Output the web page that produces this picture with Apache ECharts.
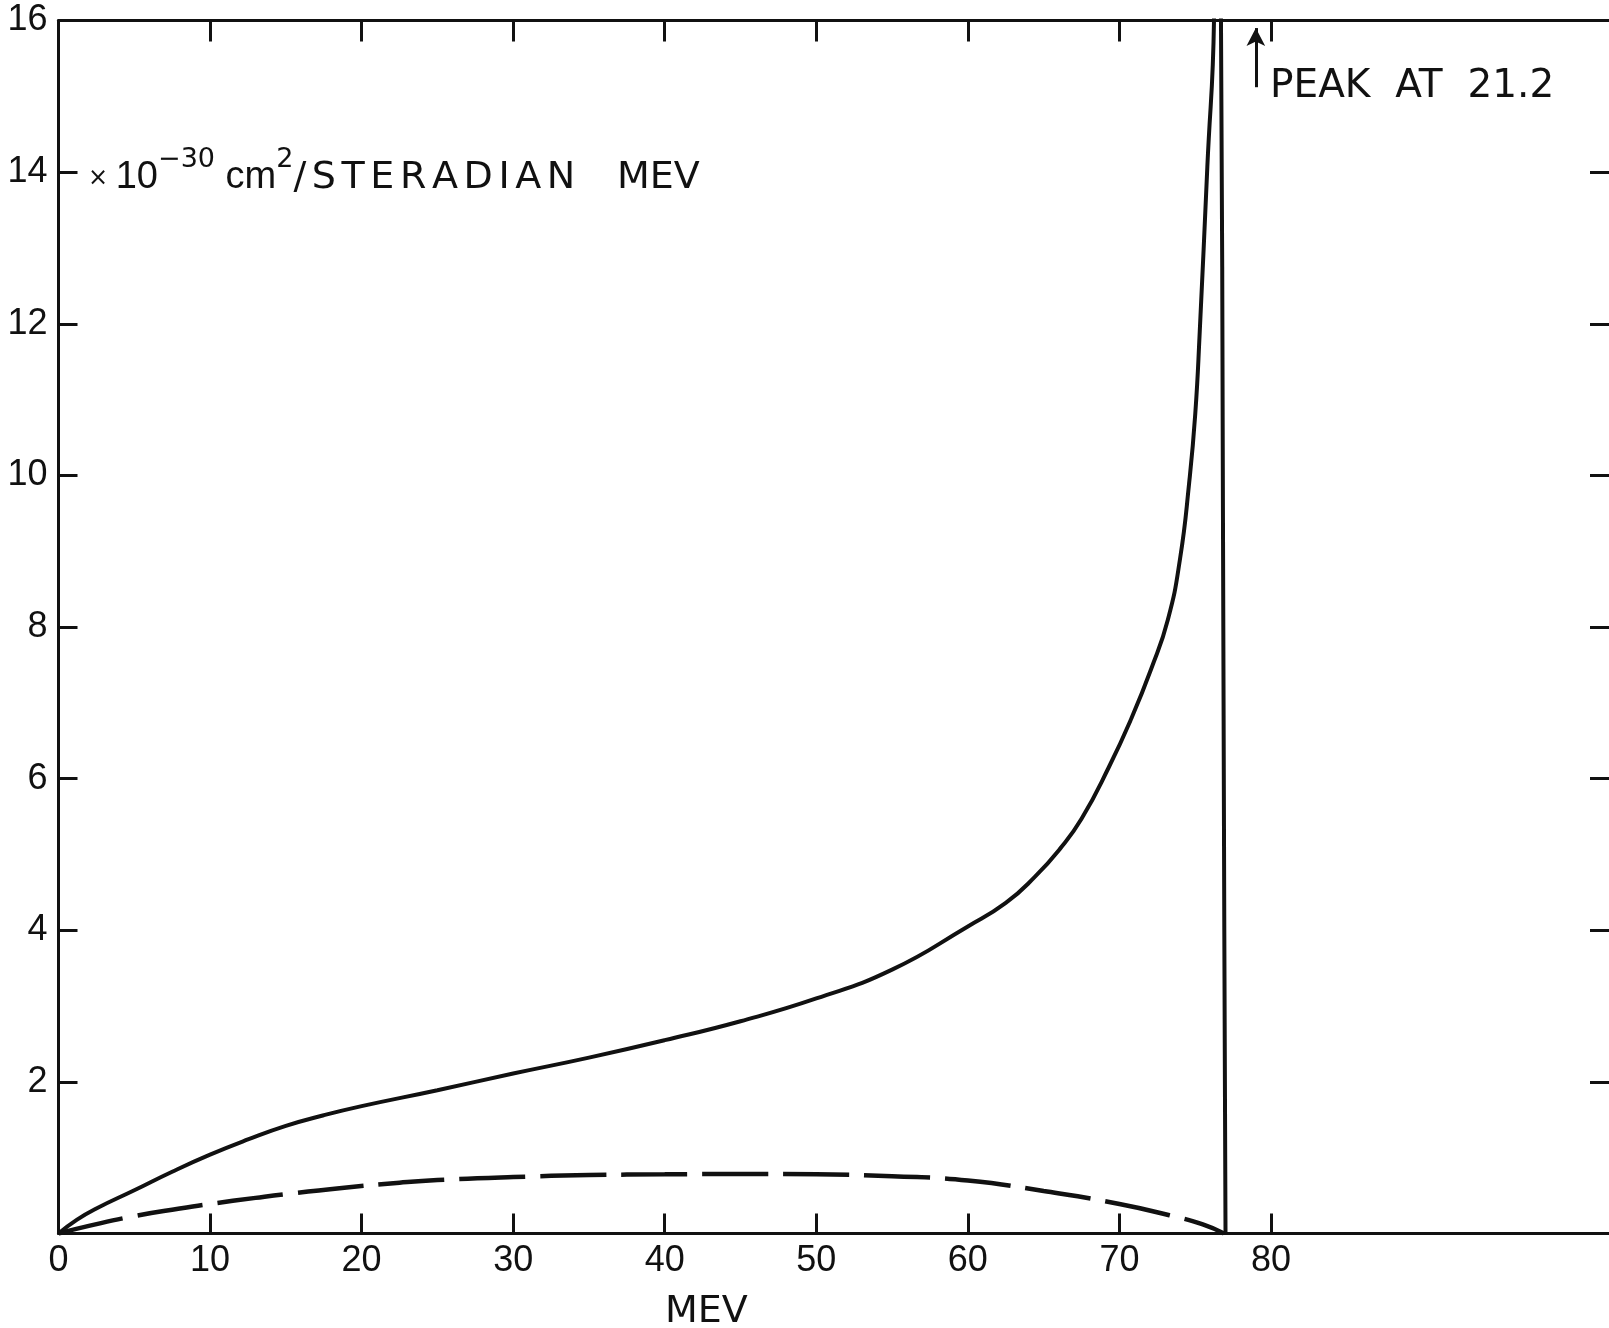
<!DOCTYPE html>
<html>
<head>
<meta charset="utf-8">
<script src="https://cdn.jsdelivr.net/npm/echarts@6/dist/echarts.min.js"></script>
<style>
html,body{margin:0;padding:0;background:#fff;}
#chart{width:1609px;height:1328px;}
</style>
</head>
<body>
<div id="chart"></div>
<script>
// Solid curve (energy in MeV, value in 1e-30 cm^2/sr MeV)
const solidEnergy = [0, 1.2, 2.5, 5, 7.5, 10, 12.5, 15, 17.5, 20, 25, 30, 35, 40, 45, 50, 55, 60, 62.5, 64.4, 66.1, 67.5, 69.3, 70.8, 72.1, 73.2, 74.0, 74.6, 75.0, 75.3, 75.8, 76.24, 76.45, 76.7, 76.83, 76.92, 77.0];
const solidValues = [0, 0.18, 0.33, 0.57, 0.815, 1.04, 1.24, 1.42, 1.56, 1.68, 1.89, 2.11, 2.32, 2.55, 2.80, 3.10, 3.48, 4.05, 4.36, 4.7, 5.08, 5.47, 6.15, 6.8, 7.45, 8.1, 8.9, 9.9, 10.8, 11.9, 14.07, 16, 21.2, 16, 9.5, 4, 0];
// Dashed curve
const dashedEnergy = [0, 2, 5, 8, 10, 13, 15, 18.7, 22.5, 25, 30, 35, 40, 45, 50, 55, 60, 65, 70, 73.3, 75.5, 76.9];
const dashedValues = [0, 0.1, 0.23, 0.33, 0.39, 0.47, 0.52, 0.6, 0.67, 0.705, 0.745, 0.77, 0.78, 0.785, 0.78, 0.755, 0.70, 0.56, 0.39, 0.24, 0.12, 0];
// Ticks and labels
const xTickValues = [10, 20, 30, 40, 50, 60, 70, 80];
const xLabelValues = [0, 10, 20, 30, 40, 50, 60, 70, 80];
const yTickValues = [2, 4, 6, 8, 10, 12, 14];
const yLabelValues = [2, 4, 6, 8, 10, 12, 14, 16];
const peakValue = 21.2;
const arrowEnergy = 79;
const arrowFrom = 15.12, arrowTo = 15.9;

const FONT = 'Liberation Sans';
const FONT2 = 'DejaVu Sans';
const ink = '#111';
const axisLineStyle = {color: ink, width: 3};

function spaced(str, tok) {
  return str.split('').map(c => '{' + tok + '|' + c + '}').join('');
}
const unitText = '{x|× }{d|10}{s|−30}{d| cm}{s|2}' + spaced('/STERADIAN', 'w') + '{a|   MEV}';

const chart = echarts.init(document.getElementById('chart'), null, {renderer: 'canvas'});
chart.setOption({
  animation: false,
  backgroundColor: '#fff',
  grid: {left: 58.5, top: 20.5, right: -3, bottom: 94.5, containLabel: false, outerBoundsMode: 'none'},
  xAxis: [
    {
      type: 'value', min: 0, max: 102.5, interval: 10, position: 'bottom',
      axisLine: {show: true, onZero: false, lineStyle: axisLineStyle},
      axisTick: {show: true, inside: true, length: 20, lineStyle: axisLineStyle, customValues: xTickValues},
      axisLabel: {show: true, margin: 10, fontFamily: FONT, fontSize: 36, color: ink, customValues: xLabelValues},
      splitLine: {show: false}
    },
    {
      type: 'value', min: 0, max: 102.5, interval: 10, position: 'top',
      axisLine: {show: true, onZero: false, lineStyle: axisLineStyle},
      axisTick: {show: true, inside: true, length: 21, lineStyle: axisLineStyle, customValues: xTickValues},
      axisLabel: {show: false},
      splitLine: {show: false}
    }
  ],
  yAxis: [
    {
      type: 'value', min: 0, max: 16, interval: 2, position: 'left',
      axisLine: {show: true, onZero: false, lineStyle: axisLineStyle},
      axisTick: {show: true, inside: true, length: 19, lineStyle: axisLineStyle, customValues: yTickValues},
      axisLabel: {show: true, margin: 11, fontFamily: FONT, fontSize: 36, color: ink, customValues: yLabelValues},
      splitLine: {show: false}
    },
    {
      type: 'value', min: 0, max: 16, interval: 2, position: 'right',
      axisLine: {show: true, onZero: false, lineStyle: axisLineStyle},
      axisTick: {show: true, inside: true, length: 22, lineStyle: axisLineStyle, customValues: yTickValues},
      axisLabel: {show: false},
      splitLine: {show: false}
    }
  ],
  series: [
    {
      name: 'solid', type: 'line', xAxisIndex: 0, yAxisIndex: 0,
      data: solidEnergy.map((e, i) => [e, solidValues[i]]),
      showSymbol: false, symbol: 'none', smooth: 0.5, clip: true,
      lineStyle: {color: ink, width: 4},
      markLine: {
        silent: true, symbol: ['none', 'arrow'], symbolSize: [14, 18],
        label: {show: false},
        lineStyle: {color: ink, width: 3, type: 'solid'},
        data: [[{coord: [arrowEnergy, arrowFrom]}, {coord: [arrowEnergy, arrowTo]}]]
      }
    },
    {
      name: 'dashed', type: 'line', xAxisIndex: 0, yAxisIndex: 0,
      data: dashedEnergy.map((e, i) => [e, dashedValues[i]]),
      showSymbol: false, symbol: 'none', smooth: 0.5, clip: true,
      lineStyle: {color: ink, width: 4.5, type: [66, 15]}
    }
  ],
  graphic: [
    {
      type: 'text', left: 88, top: 146, silent: true,
      style: {
        text: unitText,
        fill: ink,
        rich: {
          x: {fontFamily: FONT2, fontSize: 24, fill: ink, verticalAlign: 'bottom', padding: [0, 0, 6, 0]},
          d: {fontFamily: FONT, fontSize: 38, fill: ink, verticalAlign: 'bottom'},
          a: {fontFamily: FONT2, fontSize: 38, fill: ink, verticalAlign: 'bottom'},
          w: {fontFamily: FONT2, fontSize: 38, fill: ink, verticalAlign: 'bottom', padding: [0, 5.6, 0, 0]},
          s: {fontFamily: FONT2, fontSize: 27, fill: ink, verticalAlign: 'bottom', padding: [0, 0, 24, 0]}
        }
      }
    },
    {
      type: 'text', left: 1270, top: 67, silent: true,
      style: {text: 'PEAK  AT  ' + peakValue.toFixed(1), fontFamily: FONT2, fontSize: 39, fill: ink}
    },
    {
      type: 'text', left: 665, top: 1293, silent: true,
      style: {text: 'MEV', fontFamily: FONT2, fontSize: 38, fill: ink}
    }
  ]
});
</script>
</body>
</html>
